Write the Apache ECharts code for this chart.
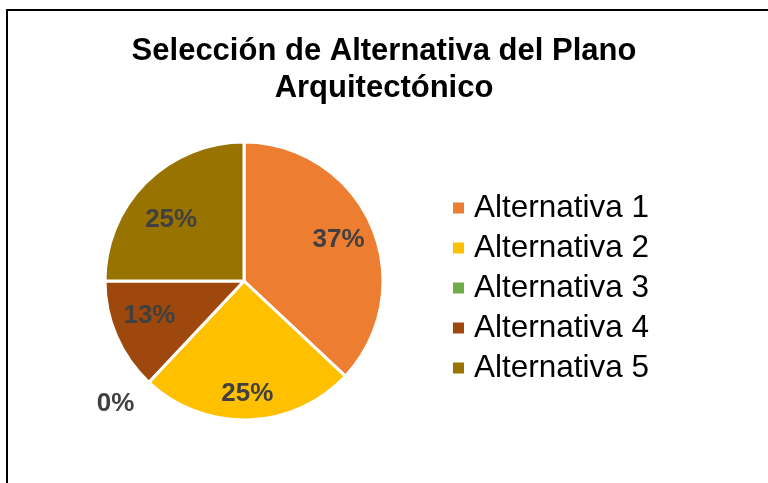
<!DOCTYPE html>
<html>
<head>
<meta charset="utf-8">
<script src="https://cdn.jsdelivr.net/npm/echarts@6/dist/echarts.min.js"></script>
<style>
  html, body { margin: 0; padding: 0; overflow: hidden; background: #fff; }
  #frame {
    position: absolute; left: 6px; top: 9px; width: 800px; height: 520px;
    border: 2px solid #000; pointer-events: none;
  }
  #chart { position: absolute; left: 0; top: 0; width: 768px; height: 483px; }
</style>
</head>
<body>
<div id="chart"></div>
<div id="frame"></div>
<script>
// Chart data
const titleText = 'Selección de Alternativa del Plano\nArquitectónico';
const categories = ['Alternativa 1', 'Alternativa 2', 'Alternativa 3', 'Alternativa 4', 'Alternativa 5'];
const shares = [37, 25, 0, 13, 25];
const sliceColors = ['#ED7D31', '#FFC000', '#70AD47', '#9E480E', '#997300'];

const FONT = '"Liberation Sans", Arial, sans-serif';
const LABEL_COLOR = '#404040';
const CENTER = [244, 281];
const RADIUS = 139;
// small vertical nudges so the labels sit like the original's "best fit"
const labelNudgeY = [0, 10, 11, -6, 12];

const chart = echarts.init(document.getElementById('chart'));

// main slices, only the empty slice gets its label outside
const sliceData = categories.map((name, i) => {
  const item = { name, value: shares[i], itemStyle: { color: sliceColors[i] } };
  if (shares[i] === 0) {
    item.label = { show: true, position: 'outside' };
    item.labelLine = { show: false, length: 14, length2: 0 };
  }
  return item;
});

// label ring: transparent, labels sit at ~0.72 radius
const labelData = categories.map((name, i) => {
  const item = { name, value: shares[i] };
  if (shares[i] === 0) item.label = { show: false };
  return item;
});

const labelStyle = {
  fontFamily: FONT,
  fontSize: 26,
  fontWeight: 'bold',
  color: LABEL_COLOR,
  formatter: (p) => p.value + '%',
};

const nudge = (params) => ({ dy: labelNudgeY[params.dataIndex] || 0 });

const option = {
  backgroundColor: '#fff',
  animation: false,
  title: {
    text: titleText,
    left: 'center',
    top: 28,
    textStyle: {
      fontFamily: FONT,
      fontSize: 31,
      fontWeight: 'bold',
      color: '#000',
      lineHeight: 37,
    },
  },
  legend: {
    orient: 'vertical',
    left: 446,
    top: 187,
    itemWidth: 13,
    itemHeight: 13,
    itemGap: 8,
    icon: 'rect',
    selectedMode: false,
    data: categories,
    textStyle: {
      fontFamily: FONT,
      fontSize: 31.5,
      lineHeight: 31,
      color: '#000',
      padding: [0, 0, 0, 4],
    },
  },
  series: [
    {
      type: 'pie',
      center: CENTER,
      radius: [0, RADIUS],
      startAngle: 90,
      clockwise: true,
      silent: true,
      avoidLabelOverlap: false,
      itemStyle: { borderColor: '#fff', borderWidth: 3 },
      label: Object.assign({ show: false }, labelStyle),
      labelLine: { show: false },
      labelLayout: nudge,
      data: sliceData,
    },
    {
      type: 'pie',
      center: CENTER,
      radius: [90, 110],
      startAngle: 90,
      clockwise: true,
      silent: true,
      avoidLabelOverlap: false,
      itemStyle: { color: 'rgba(0,0,0,0)', borderWidth: 0 },
      label: Object.assign({ show: true, position: 'inside' }, labelStyle),
      labelLine: { show: false },
      labelLayout: nudge,
      data: labelData,
    },
  ],
};

chart.setOption(option);
</script>
</body>
</html>
